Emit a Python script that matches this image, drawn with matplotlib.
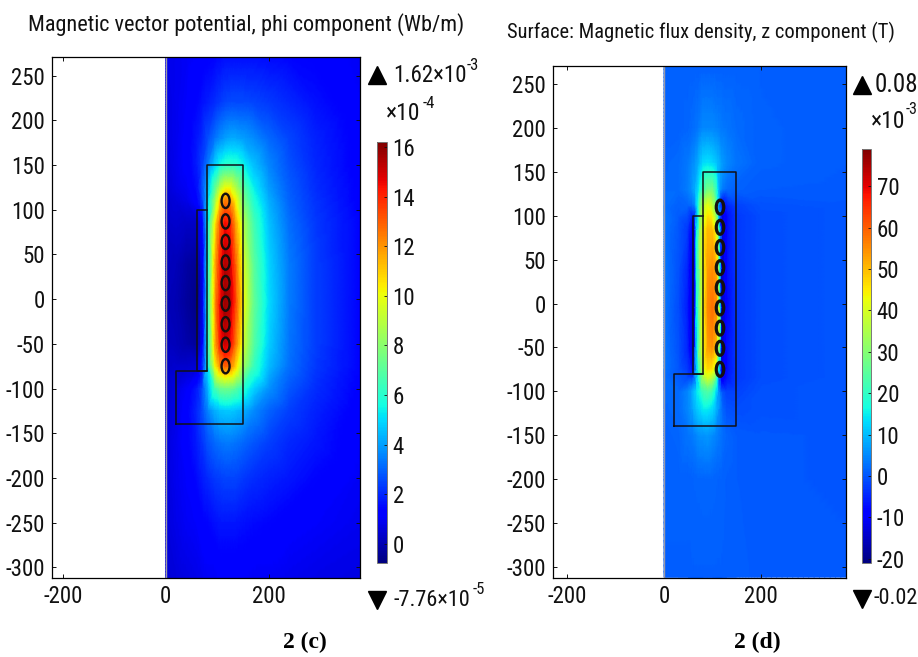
import numpy as np
import matplotlib
matplotlib.use('Agg')
from matplotlib import pyplot as plt
from matplotlib import cm, colors
from matplotlib.patches import Ellipse
import matplotlib.tri as mtri

plt.rcParams['font.family'] = ['Roboto Condensed', 'Liberation Sans', 'DejaVu Sans']
plt.rcParams['axes.unicode_minus'] = False

W, H = 918, 657

# geometry outline (mm)
outline_r = [20, 150, 150, 80, 80, 20, 20]
outline_z = [-140, -140, 150, 150, -80, -80, -140]
inner_r = [80, 60, 60, 80]
inner_z = [100, 100, -80, -80]
coil_r = 116
coil_z = [110, 87, 64, 41, 18, -5, -28, -51, -75]
x_ticks = [-200, 0, 200]
y_ticks = [250, 200, 150, 100, 50, 0, -50, -100, -150, -200, -250, -300]

# panel c: A_phi, units 1e-4 Wb/m
a_r = [0, 20, 40, 60, 70, 80, 95, 105, 115, 125, 135, 150, 170, 200, 240, 290, 377]
a_z = [271, 220, 180, 150, 125, 110, 85, 40, -5, -50, -75, -100, -125, -160, -200, -250, -312]
a_phi = [
    [.8, .9, 1.0, 1.1, 1.2, 1.3, 1.4, 1.5, 1.6, 1.6, 1.6, 1.6, 1.6, 1.5, 1.4, 1.3, 1.0],
    [.7, .9, 1.1, 1.4, 1.6, 1.8, 2.1, 2.3, 2.5, 2.6, 2.6, 2.6, 2.5, 2.3, 2.0, 1.6, 1.1],
    [.7, .9, 1.2, 1.7, 2.0, 2.6, 3.3, 3.7, 4, 4.2, 4.2, 4, 3.7, 3.1, 2.5, 1.9, 1.2],
    [.6, .9, 1.2, 1.8, 2.4, 3.4, 4.8, 5.6, 6, 6.1, 6, 5.5, 4.6, 3.6, 2.7, 2, 1.2],
    [.5, .8, 1, 1.6, 2.6, 4.2, 7, 8.8, 10, 10, 8.8, 7, 5.4, 4, 2.9, 2.1, 1.3],
    [.4, .6, .8, 1.3, 2.3, 4.5, 8.5, 11, 12.5, 12, 10.5, 7.8, 5.9, 4.3, 3, 2.2, 1.3],
    [.3, .4, .3, .3, 1.3, 4.8, 10.5, 13, 14.5, 14, 12, 9, 6.6, 4.6, 3.2, 2.3, 1.4],
    [.2, .1, -.2, -.4, .9, 5, 11.5, 14, 15.5, 15, 13, 9.8, 7.1, 4.9, 3.4, 2.4, 1.4],
    [.1, 0, -.3, -.6, .8, 5.2, 12, 14.5, 15.8, 15.4, 13.5, 10.2, 7.3, 5, 3.4, 2.4, 1.4],
    [.2, .1, -.1, -.3, 1, 5.2, 11.5, 14, 15.2, 14.6, 12.8, 9.6, 7, 4.8, 3.3, 2.4, 1.4],
    [.3, .4, .4, .5, 1.8, 5, 10, 12, 13, 12.5, 11, 8.5, 6.4, 4.5, 3.2, 2.3, 1.4],
    [.4, .7, 1.1, 1.8, 2.6, 4.2, 6.5, 7.3, 7.5, 7.4, 7, 6, 4.9, 3.8, 2.8, 2.1, 1.3],
    [.5, .8, 1.3, 2, 2.6, 3.5, 4.3, 4.6, 4.7, 4.7, 4.6, 4.3, 3.7, 3, 2.4, 1.9, 1.2],
    [.6, .9, 1.3, 1.8, 2.2, 2.7, 3.1, 3.3, 3.4, 3.4, 3.3, 3.1, 2.8, 2.4, 2, 1.7, 1.1],
    [.6, .9, 1.1, 1.5, 1.8, 2, 2.3, 2.4, 2.5, 2.5, 2.5, 2.3, 2.1, 1.9, 1.7, 1.4, 1],
    [.6, .8, 1, 1.1, 1.3, 1.4, 1.6, 1.7, 1.7, 1.7, 1.7, 1.6, 1.5, 1.4, 1.2, 1.1, .9],
    [.5, .6, .7, .8, .9, 1, 1, 1.1, 1.1, 1.1, 1.1, 1.1, 1, 1, .9, .8, .7],
]

# panel d: B_z, units 1e-3 T
b_r = [0, 30, 50, 58, 62, 68, 74, 80, 90, 100, 108, 114, 120, 130, 150, 200, 377]
b_z = [271, 200, 160, 130, 112, 100, 85, 40, -5, -50, -75, -85, -100, -120, -150, -200, -312]
b_field = [
    [1, 1, 1, 1, 1, 1, 1, 1, 1, 1, 1, 1, 1, 1, 1, .8, .6],
    [1, 1, 1.5, 2, 2.5, 3, 4, 5, 5, 5, 4.5, 4, 3.5, 3, 2, 1, .5],
    [1.5, 2, 3.5, 5, 6, 8, 10, 13, 14, 13, 11, 9, 7, 5, 3, 1, .5],
    [2, 2, 4, 6, 8, 12, 17, 22, 28, 28, 20, 8, 4, 2, 1, .5, .3],
    [2.5, 1, 1.5, 2, 5, 15, 25, 36, 42, 38, 28, 5, -9, -5, -2, -.5, 0],
    [3, .5, -1, -5, -4, 14, 28, 40, 46, 44, 34, 12, -13, -7, -3, -1, 0],
    [3, 0, -3, -9, -6, 15, 32, 42, 50, 50, 44, 25, -14, -7, -3, -1, 0],
    [3.2, -.5, -5, -12, -7, 18, 34, 42, 53, 55, 52, 32, -15, -7, -3, -1, 0],
    [3.2, -1, -6, -13, -8, 18, 34, 43, 55, 58, 55, 36, -15, -8, -3, -1, 0],
    [3.2, -.5, -5, -12, -7, 18, 34, 42, 53, 55, 50, 32, -15, -7, -3, -1, 0],
    [3, 0, -3, -7, -4, 14, 28, 40, 47, 46, 38, 16, -13, -7, -3, -1, 0],
    [2.5, .5, -1, -1, 2, 12, 24, 34, 40, 36, 26, 4, -10, -6, -3, -1, 0],
    [2, 2, 5, 8, 10, 14, 18, 22, 24, 22, 14, 6, 0, -2, -2, -.5, 0],
    [1.5, 2, 5, 7, 9, 11, 13, 15, 15, 13, 10, 6, 2, -.5, -1, -.5, 0],
    [1, 1.5, 3, 3.5, 4, 5, 6, 6, 6.5, 5.5, 4.5, 3.5, 2.5, 1.5, .5, .2, 0],
    [1, 1, 1, 1.2, 1.3, 1.4, 1.5, 1.6, 1.6, 1.5, 1.4, 1.2, 1.1, .8, .5, .2, 0],
    [.8, .8, .8, .8, .8, .8, .8, .8, .8, .8, .8, .8, .8, .7, .6, .4, .2],
]

a_ticks = [0, 2, 4, 6, 8, 10, 12, 14, 16]
b_ticks = [-20, -10, 0, 10, 20, 30, 40, 50, 60, 70]


def px_axes(fig, left, top, right, bottom):
    return fig.add_axes([left / W, 1 - bottom / H, (right - left) / W, (bottom - top) / H])


def label(fig, x, y, s, size=17, **kw):
    kw.setdefault('ha', 'left')
    kw.setdefault('va', 'center')
    kw.setdefault('color', '#111111')
    return fig.text(x / W, 1 - y / H, s, fontsize=size, **kw)


def panel(fig, box, xlim, ylim, r, z, field, vmin, vmax, coil_lw):
    ax = px_axes(fig, *box)
    norm = colors.Normalize(vmin, vmax)
    rr, zz = np.meshgrid(r, z)
    values = np.array(field, float).ravel()
    tri = mtri.Triangulation(rr.ravel(), zz.ravel())
    linear = mtri.LinearTriInterpolator(tri, values)
    tri_f, field_f = mtri.UniformTriRefiner(tri).refine_field(values, triinterpolator=linear, subdiv=4)
    ax.tripcolor(tri_f, field_f, shading='gouraud', cmap='jet', norm=norm)
    ax.plot([0, 0], ylim, color='#9a9aa8', lw=1)
    ax.plot(outline_r, outline_z, color='#101018', lw=1.1)
    ax.plot(inner_r, inner_z, color='#101018', lw=1.1)
    for cz in coil_z:
        ax.add_patch(Ellipse((coil_r, cz), 15.5, 16, fill=False, ec='#15100f', lw=coil_lw))
    ax.set_xlim(xlim)
    ax.set_ylim(ylim)
    ax.set_xticks(x_ticks)
    ax.set_yticks(y_ticks)
    ax.tick_params(direction='in', length=3, width=0.7, top=True, right=True, labelsize=16.5,
                   pad=5, colors='#111111')
    for s in ax.spines.values():
        s.set_linewidth(0.9)
    return ax, norm


def bar(fig, box, norm, ticks):
    cax = px_axes(fig, *box)
    cb = fig.colorbar(cm.ScalarMappable(norm=norm, cmap='jet'), cax=cax, ticks=ticks)
    cb.ax.tick_params(direction='in', length=2, width=0.6, labelsize=16.5, pad=4, colors='#111111')
    cb.outline.set_edgecolor('#777777')
    cb.outline.set_linewidth(0.7)


fig = plt.figure(figsize=(W / 100, H / 100), dpi=100)

ax_c, norm_c = panel(fig, (52, 57, 360, 578), (-221, 377), (-312, 271), a_r, a_z, a_phi, -0.776, 16.2, 1.7)
bar(fig, (377, 142, 387, 563), norm_c, a_ticks)
ax_d, norm_d = panel(fig, (553, 66, 846, 578), (-230, 377), (-313, 271), b_r, b_z, b_field, -21, 79, 2.3)
bar(fig, (862, 149, 871, 563), norm_d, b_ticks)

# titles, range labels and captions are placed in figure pixels
label(fig, 28, 25, 'Magnetic vector potential, phi component (Wb/m)', size=16)
label(fig, 507, 32, 'Surface: Magnetic flux density, z component (T)', size=14.8)

label(fig, 393, 76, '1.62\u00d710', size=16.5)
label(fig, 467, 65, '-3', size=12)
label(fig, 386, 114, '\u00d710', size=17)
label(fig, 423, 103, '-4', size=12)
label(fig, 393, 600, '-7.76\u00d710', size=16)
label(fig, 473, 590, '-5', size=12)

label(fig, 875, 85, '0.08', size=18)
label(fig, 871, 122, '\u00d710', size=17)
label(fig, 906, 110, '-3', size=11.5)
label(fig, 874, 599, '-0.02', size=16)

overlay = fig.add_axes([0, 0, 1, 1])
overlay.set_xlim(0, W)
overlay.set_ylim(H, 0)
overlay.axis('off')
overlay.patch.set_alpha(0)
overlay.plot([377, 862], [75, 85], '^', color='black', ms=13, ls='none')
overlay.plot([377, 862], [600, 599], 'v', color='black', ms=13, ls='none')

label(fig, 305, 642, '2 (c)', size=17, ha='center', family=['Liberation Serif'], weight='bold', color='black')
label(fig, 757, 642, '2 (d)', size=17, ha='center', family=['Liberation Serif'], weight='bold', color='black')

fig.savefig('out.png', dpi=100)
